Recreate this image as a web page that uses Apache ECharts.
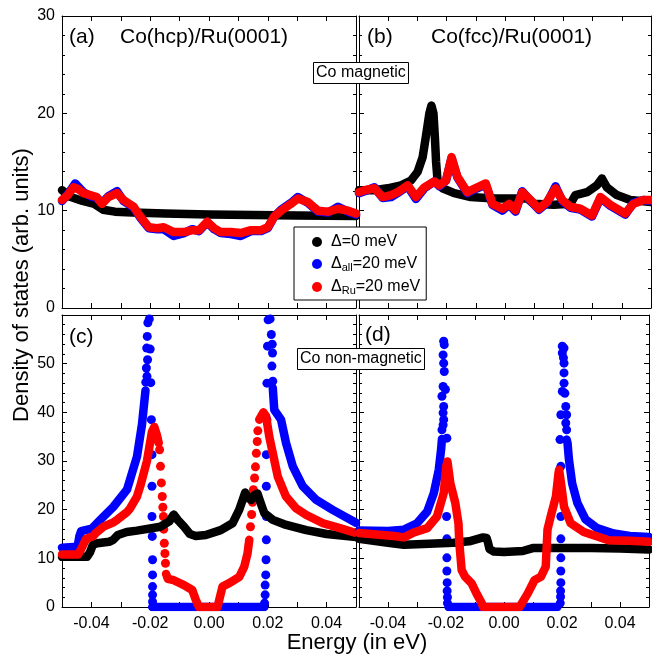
<!DOCTYPE html>
<html>
<head>
<meta charset="utf-8">
<script src="https://cdn.jsdelivr.net/npm/echarts@6/dist/echarts.min.js"></script>
<style>
  html, body { margin: 0; padding: 0; background: #fff; }
  #chart { width: 652px; height: 658px; }
</style>
</head>
<body>
<div id="chart"></div>
<script>
// series names
var NAME_0 = 'Δ=0 meV';
var NAME_ALL = 'Δall=20 meV';
var NAME_RU = 'ΔRu=20 meV';

// ---- (a) Co(hcp)/Ru(0001), magnetic ----
var aBlack = [[-0.05,12.1],[-0.047,11.4],[-0.043,11.0],[-0.039,10.7],[-0.036,10.1],[-0.032,9.9],[-0.026,9.8],[-0.015,9.7],[0.0,9.6],[0.015,9.55],[0.03,9.5],[0.05,9.45]];
var aBlue = [[-0.05,11.0],[-0.048,11.7],[-0.0455,12.8],[-0.0427,11.9],[-0.0404,11.5],[-0.0382,11.3],[-0.0364,10.8],[-0.0342,11.5],[-0.0313,12.0],[-0.0291,11.0],[-0.0256,10.3],[-0.0234,9.3],[-0.0205,8.2],[-0.0176,8.1],[-0.0154,8.1],[-0.012,7.4],[-0.0085,7.7],[-0.0057,8.1],[-0.0034,7.9],[-0.0006,8.8],[0.0017,8.1],[0.004,7.7],[0.0074,7.6],[0.0108,7.4],[0.0143,7.9],[0.0177,7.9],[0.02,8.2],[0.0222,9.4],[0.0245,10.1],[0.0279,10.8],[0.0302,11.4],[0.0336,10.8],[0.0371,9.9],[0.0405,9.8],[0.0439,10.4],[0.0473,9.9],[0.05,9.6]];
var aRed = [[-0.05,11.1],[-0.048,11.6],[-0.0461,12.4],[-0.0444,12.2],[-0.0427,11.8],[-0.0404,11.6],[-0.0382,11.4],[-0.0364,10.7],[-0.0342,11.4],[-0.0313,11.8],[-0.0291,11.1],[-0.0256,10.4],[-0.0234,9.4],[-0.0205,8.3],[-0.0176,8.2],[-0.0154,8.3],[-0.012,7.8],[-0.0085,7.8],[-0.0057,8.0],[-0.0034,8.0],[-0.0006,8.85],[0.0017,8.2],[0.004,7.8],[0.0074,7.8],[0.0108,7.7],[0.0143,8.0],[0.0177,8.0],[0.02,8.3],[0.0222,9.4],[0.0245,10.0],[0.0279,10.7],[0.0302,11.25],[0.0336,10.9],[0.0371,10.0],[0.0405,9.9],[0.0439,10.2],[0.0473,10.0],[0.05,9.7]];

// ---- (b) Co(fcc)/Ru(0001), magnetic ----
var bBlack = [[-0.05,12.1],[-0.0447,12.1],[-0.0402,12.3],[-0.0356,12.6],[-0.0322,13.1],[-0.0299,14.0],[-0.0282,15.5],[-0.0271,17.6],[-0.0259,20.0],[-0.0252,20.8],[-0.0245,20.0],[-0.024,17.5],[-0.0236,15.0],[-0.0231,13.1],[-0.0214,12.3],[-0.0174,11.8],[-0.0117,11.4],[-0.0038,11.25],[0.0076,11.25],[0.0099,10.7],[0.0167,10.6],[0.0224,10.7],[0.0241,11.6],[0.0281,11.9],[0.0315,12.6],[0.0332,13.3],[0.0349,12.4],[0.0383,11.6],[0.0429,11.1],[0.05,10.9]];
var bBlue = [[-0.05,11.8],[-0.0481,12.0],[-0.0447,12.4],[-0.0419,11.3],[-0.039,11.4],[-0.0368,11.8],[-0.0333,12.5],[-0.0305,11.2],[-0.0276,12.3],[-0.0242,13.0],[-0.0225,12.5],[-0.0202,13.1],[-0.0183,15.4],[-0.0163,13.4],[-0.0129,11.8],[-0.0095,12.3],[-0.0066,12.7],[-0.0043,10.6],[-0.0009,10.0],[0.0014,10.6],[0.0036,9.9],[0.0059,12.0],[0.0082,11.2],[0.0116,10.1],[0.0144,10.8],[0.0173,12.5],[0.0196,11.0],[0.0224,10.3],[0.0258,10.1],[0.0298,9.4],[0.0327,11.3],[0.0361,10.5],[0.0412,9.6],[0.044,10.8],[0.0474,11.1],[0.05,11.0]];
var bRed = [[-0.05,11.9],[-0.0481,12.1],[-0.0447,12.3],[-0.0419,11.4],[-0.039,11.6],[-0.0368,11.9],[-0.0333,12.6],[-0.0305,11.4],[-0.0276,12.4],[-0.0242,13.0],[-0.0225,12.6],[-0.0202,13.1],[-0.0183,15.5],[-0.0163,13.5],[-0.0129,11.9],[-0.0095,12.4],[-0.0066,12.8],[-0.0043,10.7],[-0.0009,10.2],[0.0014,10.7],[0.0036,10.05],[0.0059,11.9],[0.0082,11.25],[0.0116,10.2],[0.0144,10.9],[0.0173,12.3],[0.0196,11.1],[0.0224,10.4],[0.0258,10.2],[0.0298,9.5],[0.0327,11.4],[0.0361,10.6],[0.0412,9.7],[0.044,10.7],[0.0474,11.1],[0.05,11.1]];

// ---- (c) Co(hcp)/Ru(0001), non-magnetic ----
var cBlack = [[-0.05,10.3],[-0.0415,10.3],[-0.0405,11.2],[-0.0395,12.8],[-0.038,13.1],[-0.034,13.4],[-0.0326,13.8],[-0.031,14.8],[-0.028,15.4],[-0.0245,15.7],[-0.0165,16.5],[-0.0135,17.6],[-0.012,19.0],[-0.0105,17.8],[-0.0085,16.5],[-0.0065,15.0],[-0.0045,14.6],[-0.0011,14.8],[0.004,15.8],[0.008,17.2],[0.0103,20.0],[0.0123,23.5],[0.0135,22.3],[0.0143,22.0],[0.0155,23.0],[0.0165,23.3],[0.0178,21.0],[0.0188,19.3],[0.0217,17.9],[0.0256,17.0],[0.0331,15.8],[0.04,15.0],[0.05,14.4]];
var cBlue = [[-0.05,12.2],[-0.0447,12.4],[-0.0441,14.5],[-0.0435,15.6],[-0.0399,16.1],[-0.037,17.9],[-0.0325,20.6],[-0.0279,24.1],[-0.0245,30.9],[-0.0228,37.5],[-0.0216,44.5],[-0.0216,'-'],[-0.0193,0],[0.0188,0],[0.0188,'-'],[0.0217,45.0],[0.0222,40.5],[0.0245,38.5],[0.0262,33.7],[0.0285,28.9],[0.0319,24.8],[0.0365,22.0],[0.0422,19.9],[0.05,17.3]];
var cBlueDots = [[-0.0215,46.2],[-0.0213,49.1],[-0.0211,47.4],[-0.0212,53.2],[-0.0209,50.8],[-0.021,55.6],[-0.0208,58.4],[-0.0203,59.2],[-0.02,53.0],[-0.0198,46.1],[-0.0196,38.5],[-0.0194,31.3],[-0.0194,24.8],[-0.0194,18.6],[-0.0193,14.5],[-0.0192,9.7],[-0.0192,6.6],[-0.0192,4.2],[-0.0192,2.5],[-0.0192,1.1],
  [0.0189,0.8],[0.0191,2.5],[0.0191,4.5],[0.0193,6.6],[0.0194,9.7],[0.0195,13.8],[0.0195,18.6],[0.0195,24.8],[0.0195,31.3],[0.0197,38.5],[0.0197,46.0],[0.0199,53.6],[0.0201,59.0],[0.0208,59.2],[0.0212,56.0],[0.0215,54.0],[0.0216,52.2],[0.0214,49.5],[0.0217,46.4]];
var cRed = [[-0.05,10.8],[-0.0445,10.8],[-0.043,12.5],[-0.0418,14.0],[-0.0393,14.6],[-0.0385,15.2],[-0.0359,16.5],[-0.0325,17.4],[-0.0313,17.9],[-0.0279,19.5],[-0.0268,20.3],[-0.0245,22.7],[-0.0234,24.8],[-0.0211,30.0],[-0.0194,36.0],[-0.0186,37.0],[-0.0178,35.5],[-0.0171,33.7],[-0.0171,'-'],[-0.0146,6.8],[-0.014,5.8],[-0.012,5.5],[-0.0085,4.5],[-0.0057,3.5],[-0.0045,1.5],[-0.0034,0],[0.0029,0],[0.0035,1.5],[0.0046,4.2],[0.0069,4.9],[0.0103,6.2],[0.012,8.3],[0.0131,11.0],[0.0137,13.8],[0.0137,'-'],[0.0171,38.5],[0.0185,40.0],[0.0194,39.2],[0.0205,35.0],[0.0217,31.6],[0.0234,26.8],[0.0262,22.7],[0.0296,20.3],[0.0331,18.9],[0.0388,17.2],[0.0445,16.2],[0.05,15.2]];
var cRedDots = [[-0.0168,32.3],[-0.0165,28.9],[-0.0162,25.5],[-0.0159,22.7],[-0.0157,20.5],[-0.0155,18.6],[-0.0154,16.0],[-0.0152,13.1],[-0.015,11.0],[-0.0148,9.0],
  [0.0141,16.5],[0.0145,19.0],[0.0148,21.5],[0.0151,24.1],[0.0155,26.5],[0.0158,28.8],[0.0161,31.6],[0.0164,34.0],[0.0166,36.2]];

// ---- (d) Co(fcc)/Ru(0001), non-magnetic ----
var dBlack = [[-0.05,14.0],[-0.045,13.6],[-0.04,13.2],[-0.0345,12.8],[-0.03,12.9],[-0.0174,13.2],[-0.012,13.5],[-0.0072,14.3],[-0.006,14.2],[-0.0055,13.2],[-0.005,11.9],[-0.0035,11.4],[0.0,11.3],[0.0065,11.5],[0.0099,12.1],[0.02,12.1],[0.03,12.1],[0.04,12.0],[0.05,11.8]];
var dBlue = [[-0.05,15.7],[-0.04,15.6],[-0.0345,15.9],[-0.03,17.2],[-0.0265,19.6],[-0.0242,23.4],[-0.0225,28.2],[-0.0217,32.3],[-0.0214,34.5],[-0.0214,'-'],[-0.0191,0],[0.0184,0],[0.0184,'-'],[0.0216,34.4],[0.0219,33.7],[0.0224,30.3],[0.0235,25.4],[0.0253,21.4],[0.0281,18.0],[0.0321,16.2],[0.0378,15.1],[0.0434,14.6],[0.05,14.4]];
var dBlueDots = [[-0.0214,36.4],[-0.021,37.4],[-0.0208,38.5],[-0.021,39.9],[-0.0208,41.2],[-0.0214,43.3],[-0.0202,44.7],[-0.021,45.3],[-0.0206,48.4],[-0.0208,50.1],[-0.021,51.8],[-0.0206,53.9],[-0.0208,54.6],[-0.0197,34.7],[-0.0198,18.6],[-0.0197,14.0],[-0.0197,10.1],[-0.0197,7.4],[-0.0196,5.0],[-0.0196,3.3],[-0.0195,2.0],[-0.0195,0.8],
  [0.0194,0.8],[0.0195,2.1],[0.0195,3.3],[0.0196,5.0],[0.0196,7.4],[0.0196,10.1],[0.0196,14.0],[0.0196,18.6],[0.0196,28.9],[0.0193,34.4],[0.0196,39.5],[0.0201,44.3],[0.0207,46.0],[0.0207,48.1],[0.0207,50.1],[0.0205,51.2],[0.0201,52.2],[0.0201,53.6],[0.0207,53.2],[0.021,43.9],[0.0213,41.2],[0.0216,39.5],[0.0213,37.8],[0.0216,36.4]];
var dRed = [[-0.05,15.2],[-0.044,14.9],[-0.038,14.6],[-0.0345,14.3],[-0.0311,15.3],[-0.0265,16.2],[-0.0231,18.6],[-0.0208,23.4],[-0.0199,28.9],[-0.0195,29.9],[-0.0185,25.4],[-0.0168,21.4],[-0.0157,17.2],[-0.0154,13.1],[-0.0146,7.6],[-0.0134,6.2],[-0.0112,4.9],[-0.0095,2.8],[-0.0077,0.8],[-0.0072,0],[0.0054,0],[0.0082,2.8],[0.0105,5.5],[0.0127,6.2],[0.0144,8.3],[0.015,15.9],[0.0161,18.6],[0.0179,22.7],[0.0188,27.5],[0.019,28.2],[0.0198,24.8],[0.0207,20.6],[0.023,17.2],[0.0275,15.4],[0.0327,14.4],[0.036,13.7],[0.0434,13.6],[0.05,13.4]];

var FONT = 'Liberation Sans, Arial, sans-serif';
var BLACK = '#000000', BLUE = '#0000ff', RED = '#ff0000';

var chart = echarts.init(document.getElementById('chart'), null, {renderer: 'canvas'});

// grid boxes: (a) (b) (c) (d)
var grids = [
    {left: 62, top: 16, width: 294, height: 292},
    {left: 359, top: 16, width: 292, height: 292},
    {left: 62, top: 315, width: 294, height: 292},
    {left: 359, top: 315, width: 292, height: 292}
];

var axisLineStyle = {show: true, onZero: false, lineStyle: {color: '#000', width: 1}};

function makeX(g, labels) {
    var base = {
        type: 'value', gridIndex: g, min: -0.05, max: 0.05, interval: 0.01,
        axisLine: axisLineStyle,
        axisTick: {inside: true, length: 5, lineStyle: {color: '#000'}},
        splitLine: {show: false}
    };
    var bottom = Object.assign({}, base, {
        position: 'bottom',
        axisLabel: {
            show: labels, color: '#000', fontFamily: FONT, fontSize: 16, margin: 9,
            formatter: function (v) {
                var k = Math.round(v * 100);
                return (k % 2 === 0 && Math.abs(k) < 5) ? (k / 100).toFixed(2) : '';
            }
        }
    });
    var top = Object.assign({}, base, {position: 'top', axisLabel: {show: false}});
    return [bottom, top];
}

function makeY(g, max, labels) {
    var base = {
        type: 'value', gridIndex: g, min: 0, max: max, interval: 10,
        axisLine: axisLineStyle,
        axisTick: {inside: true, length: 5, lineStyle: {color: '#000'}},
        minorTick: {show: true, splitNumber: 5, length: 3, lineStyle: {color: '#000'}},
        splitLine: {show: false}
    };
    var left = Object.assign({}, base, {
        position: 'left',
        axisLabel: {show: labels, color: '#000', fontFamily: FONT, fontSize: 16, margin: 7,
            showMaxLabel: max === 30}
    });
    var right = Object.assign({}, base, {position: 'right', axisLabel: {show: false}});
    return [left, right];
}

var xAxes = [].concat(makeX(0, false), makeX(1, false), makeX(2, true), makeX(3, true));
var yAxes = [].concat(makeY(0, 30, true), makeY(1, 30, false), makeY(2, 60, true), makeY(3, 60, false));

function lineS(name, color, g, data) {
    return {
        type: 'line', name: name, xAxisIndex: g * 2, yAxisIndex: g * 2, data: data,
        showSymbol: false, symbol: 'none', connectNulls: false, animation: false,
        lineStyle: {color: color, width: 8.5, cap: 'round', join: 'round'},
        itemStyle: {color: color}
    };
}
function dotS(name, color, g, data) {
    return {
        type: 'scatter', name: name, xAxisIndex: g * 2, yAxisIndex: g * 2, data: data,
        symbol: 'circle', symbolSize: 9, animation: false,
        itemStyle: {color: color, opacity: 1}
    };
}

var series = [
    lineS(NAME_0, BLACK, 0, aBlack), lineS(NAME_ALL, BLUE, 0, aBlue), lineS(NAME_RU, RED, 0, aRed),
    lineS(NAME_0, BLACK, 1, bBlack), lineS(NAME_ALL, BLUE, 1, bBlue), lineS(NAME_RU, RED, 1, bRed),
    lineS(NAME_0, BLACK, 2, cBlack), lineS(NAME_ALL, BLUE, 2, cBlue), dotS(NAME_ALL, BLUE, 2, cBlueDots),
    lineS(NAME_RU, RED, 2, cRed), dotS(NAME_RU, RED, 2, cRedDots),
    lineS(NAME_0, BLACK, 3, dBlack), lineS(NAME_ALL, BLUE, 3, dBlue), dotS(NAME_ALL, BLUE, 3, dBlueDots),
    lineS(NAME_RU, RED, 3, dRed)
];

function label(text, left, top, size) {
    return {text: text, left: left, top: top, padding: 0,
        textStyle: {fontFamily: FONT, fontSize: size, fontWeight: 'normal', color: '#000', lineHeight: 24}};
}
function boxLabel(text, left, top) {
    return {text: text, left: left, top: top, padding: [2, 3, 2, 3],
        borderColor: '#000', borderWidth: 1, backgroundColor: '#fff',
        textStyle: {fontFamily: FONT, fontSize: 16, fontWeight: 'normal', color: '#000', lineHeight: 18}};
}

var option = {
    animation: false,
    backgroundColor: '#fff',
    grid: grids,
    xAxis: xAxes,
    yAxis: yAxes,
    series: series,
    title: [
        label('(a)', 69, 25, 21), label('Co(hcp)/Ru(0001)', 120, 25, 21),
        label('(b)', 367, 25, 21), label('Co(fcc)/Ru(0001)', 431, 25, 21),
        label('(c)', 69, 325, 21), label('(d)', 365, 323, 21),
        boxLabel('Co magnetic', 313, 62),
        boxLabel('Co non-magnetic', 297, 348)
    ],
    legend: {
        data: [NAME_0, NAME_ALL, NAME_RU],
        orient: 'vertical', left: 294, top: 227,
        icon: 'circle', itemWidth: 10, itemHeight: 10, itemGap: 6,
        padding: [7, 6, 4, 18],
        backgroundColor: '#fff', borderColor: '#000', borderWidth: 1,
        selectedMode: false,
        formatter: function (name) {
            if (name === NAME_ALL) return '{m|Δ}{s|all}{m|=20 meV}';
            if (name === NAME_RU) return '{m|Δ}{s|Ru}{m|=20 meV}';
            return '{m|Δ=0 meV}';
        },
        textStyle: {
            color: '#000', fontFamily: FONT, fontSize: 16, padding: [0, 0, 0, 4],
            rich: {
                m: {fontFamily: FONT, fontSize: 16, color: '#000', lineHeight: 18},
                s: {fontFamily: FONT, fontSize: 11, color: '#000', lineHeight: 6, verticalAlign: 'bottom'}
            }
        }
    },
    graphic: [
        {type: 'text', x: 22, y: 285, rotation: Math.PI / 2,
            style: {text: 'Density of states (arb. units)', font: '22px ' + FONT, fill: '#000',
                textAlign: 'center', textVerticalAlign: 'middle'}},
        {type: 'text', x: 357, y: 643,
            style: {text: 'Energy (in eV)', font: '22px ' + FONT, fill: '#000',
                textAlign: 'center', textVerticalAlign: 'middle'}}
    ]
};

chart.setOption(option);
</script>
</body>
</html>
